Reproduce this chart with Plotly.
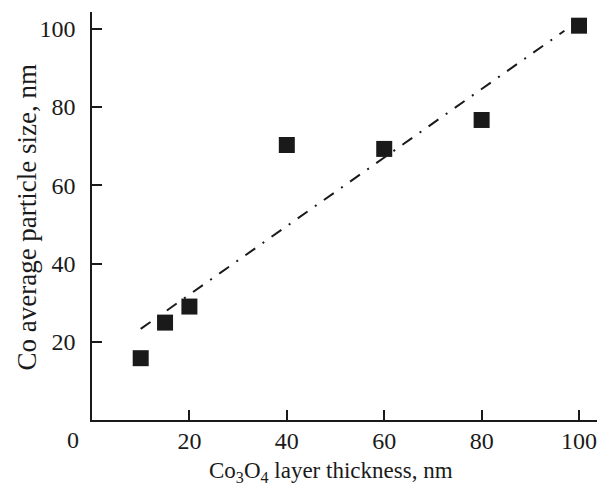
import plotly.graph_objects as go

thickness = [10, 15, 20, 40, 60, 80, 100]
particle_size = [15.8, 24.9, 29.0, 70.3, 69.3, 76.7, 100.8]
fit_x = [10, 97]
fit_y = [23.3, 99.5]
x_ticks = [20, 40, 60, 80, 100]
y_ticks = [20, 40, 60, 80, 100]

FONT = "Liberation Serif"
INK = "#1a1a1a"

# page body has an 8px margin: the figure is laid out in page pixels minus 8
OFF = 8
W, H = 605, 485 - OFF
l, r, t, b = 91.5 - OFF, 0, 12 - OFF, 485 - 420
pw, ph = W - l - r, H - t - b
X_MAX = pw / 4.875


def paper(px, py):
    return (px - OFF - l) / pw, (H - b - (py - OFF)) / ph


fig = go.Figure()
fig.add_trace(go.Scatter(x=fit_x, y=fit_y, mode="lines",
                         line=dict(color=INK, width=2, dash="12px,9px,2px,9px"),
                         showlegend=False))
fig.add_trace(go.Scatter(x=thickness, y=particle_size, mode="markers",
                         marker=dict(symbol="square", size=16, color=INK,
                                     line=dict(width=0)),
                         showlegend=False))

ax_common = dict(ticks="inside", ticklen=10, tickwidth=1.5, tickcolor=INK,
                 showline=True, linewidth=1.5, linecolor=INK, showgrid=False,
                 zeroline=False, automargin=False)

x0, y0 = paper(72.3, 440)
xt, yt = paper(331, 472)
xy, yy = paper(26, 217)

fig.update_layout(
    width=W, height=H,
    margin=dict(l=l, r=r, t=t, b=b, autoexpand=False),
    plot_bgcolor="white", paper_bgcolor="white",
    font=dict(family=FONT, size=24, color=INK),
    xaxis=dict(range=[0, X_MAX], tickvals=x_ticks, ticklabelstandoff=-2, **ax_common),
    yaxis=dict(range=[0, 104.3], tickvals=y_ticks, ticklabelstandoff=10, **ax_common),
    annotations=[
        dict(text="0", x=x0, y=y0, xref="paper", yref="paper", showarrow=False,
             xanchor="center", yanchor="middle"),
        dict(text="Co<sub>3</sub>O<sub>4</sub> layer thickness, nm", x=xt, y=yt,
             xref="paper", yref="paper", showarrow=False, xanchor="center",
             yanchor="middle", font=dict(size=23)),
        dict(text="Co average particle size, nm", x=xy, y=yy, textangle=-90,
             xref="paper", yref="paper", showarrow=False, xanchor="center",
             yanchor="middle", font=dict(size=27)),
    ],
)

fig.write_html("out.html")
